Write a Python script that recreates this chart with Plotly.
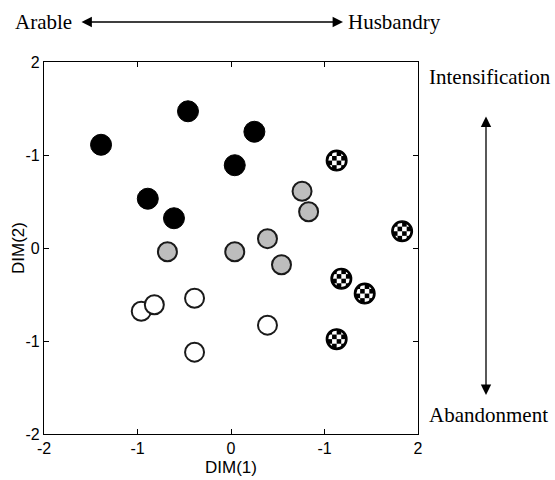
import base64
import plotly.graph_objects as go

# ---- data (DIM(1), DIM(2)) ----
black_x = [-1.39, -0.46, 0.25, 0.04, -0.89, -0.61]
black_y = [1.11, 1.47, 1.25, 0.89, 0.53, 0.32]

gray_x = [0.76, 0.83, -0.68, 0.04, 0.39, 0.54]
gray_y = [0.61, 0.39, -0.04, -0.04, 0.10, -0.18]

white_x = [-0.96, -0.82, -0.39, -0.39, 0.39]
white_y = [-0.68, -0.61, -0.54, -1.12, -0.83]

check_x = [1.13, 1.83, 1.18, 1.43, 1.13]
check_y = [0.94, 0.18, -0.33, -0.49, -0.98]

tick_vals = [-2, -1, 0, 1, 2]
x_tick_text = ["-2", "-1", "0", "-1", "2"]
y_tick_text = ["-2", "-1", "0", "-1", "2"]

# ---- checker marker graphic ----
cells = []
cell = 5
off = 2
for i in range(4):
    for j in range(4):
        if (i + j) % 2 == 0:
            cells.append(f"<rect x='{off + i*cell}' y='{off + j*cell}' width='{cell}' height='{cell}' fill='black'/>")
svg = (
    "<svg xmlns='http://www.w3.org/2000/svg' width='24' height='24' viewBox='0 0 24 24'>"
    "<defs><clipPath id='c'><circle cx='12' cy='12' r='10.5'/></clipPath></defs>"
    "<circle cx='12' cy='12' r='10.5' fill='white'/>"
    "<g clip-path='url(#c)'>" + "".join(cells) + "</g>"
    "<circle cx='12' cy='12' r='10.2' fill='none' stroke='black' stroke-width='2.2'/>"
    "</svg>"
)
src = "data:image/svg+xml;base64," + base64.b64encode(svg.encode()).decode()

fig = go.Figure()
fig.add_trace(go.Scatter(x=black_x, y=black_y, mode="markers",
                         marker=dict(size=21, color="black", line=dict(width=1, color="black"))))
fig.add_trace(go.Scatter(x=gray_x, y=gray_y, mode="markers",
                         marker=dict(size=19, color="#bdbdbd", line=dict(width=2, color="#1a1a1a"))))
fig.add_trace(go.Scatter(x=white_x, y=white_y, mode="markers",
                         marker=dict(size=19, color="white", line=dict(width=2, color="#1a1a1a"))))
fig.add_trace(go.Scatter(x=check_x, y=check_y, mode="markers",
                         marker=dict(size=20, color="white", line=dict(width=2, color="black"))))

images = [dict(source=src, xref="x", yref="y", x=cx, y=cy, sizex=0.235, sizey=0.237,
               xanchor="center", yanchor="middle", sizing="stretch", layer="above")
          for cx, cy in zip(check_x, check_y)]

W, H = 555, 480
PL, PR, PT, PB = 44, 418, 62, 434   # plot area in page pixels
L, R, T, B = PL, W - PR, PT, H - PB

def px(xp):
    return (xp - PL) / (PR - PL)

def py(yp):  # page pixel from top
    return (PB - yp) / (PB - PT)

serif = dict(family="Liberation Serif, Times New Roman, serif", size=21, color="black")
sans = dict(family="Liberation Sans, Arial, sans-serif", size=16, color="black")
sans_t = dict(family="Liberation Sans, Arial, sans-serif", size=17, color="black")
ann = [
    dict(text="Arable", x=px(43), y=py(22)),
    dict(text="Husbandry", x=px(394), y=py(22)),
    dict(text="Intensification", x=px(490), y=py(77)),
    dict(text="Abandonment", x=px(488), y=py(415)),
]
for a in ann:
    a.update(xref="paper", yref="paper", showarrow=False, font=serif,
             xanchor="center", yanchor="middle")
ann.append(dict(text="DIM(1)", x=px(231), y=py(468), xref="paper", yref="paper",
                showarrow=False, font=sans_t, xanchor="center", yanchor="middle"))
ann.append(dict(text="DIM(2)", x=px(18), y=py(248), xref="paper", yref="paper", textangle=-90,
                showarrow=False, font=sans_t, xanchor="center", yanchor="middle"))
# arrows
ann.append(dict(x=px(343), y=py(22), xref="paper", yref="paper",
                ax=-263, ay=0, axref="pixel", ayref="pixel", text="", showarrow=True,
                arrowhead=2, startarrowhead=2, arrowside="end+start", arrowsize=1.6,
                startarrowsize=1.6, arrowwidth=1.3, arrowcolor="black"))
ann.append(dict(x=px(486), y=py(395), xref="paper", yref="paper",
                ax=0, ay=-280, axref="pixel", ayref="pixel", text="", showarrow=True,
                arrowhead=2, startarrowhead=2, arrowside="end+start", arrowsize=1.6,
                startarrowsize=1.6, arrowwidth=1.3, arrowcolor="black"))

axis_common = dict(range=[-2, 2], tickmode="array", tickvals=tick_vals, ticks="inside",
                   ticklen=5, tickwidth=1.2, tickcolor="black", showline=True, linecolor="black",
                   linewidth=1.3, mirror="ticks", showgrid=False, zeroline=False,
                   automargin=False, tickfont=sans)

fig.update_layout(
    width=W, height=H, showlegend=False,
    margin=dict(l=L, r=R, t=T, b=B),
    paper_bgcolor="white", plot_bgcolor="white",
    xaxis=dict(**axis_common, ticktext=x_tick_text),
    yaxis=dict(**axis_common, ticktext=y_tick_text),
    annotations=ann, images=images,
)
fig.write_html("out.html", config={"displayModeBar": False},
               post_script="document.body.style.margin='0';document.body.style.overflow='hidden';")
